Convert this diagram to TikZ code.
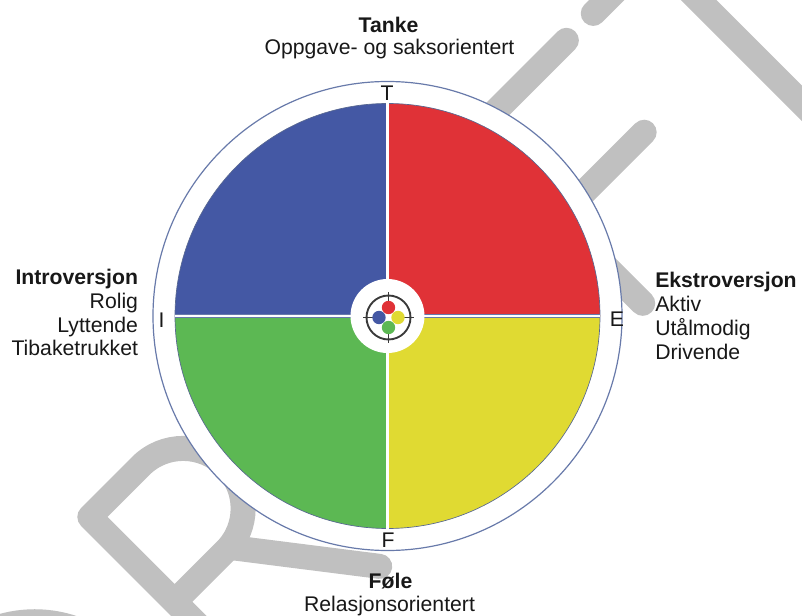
\documentclass[tikz,border=0pt]{standalone}
\usepackage{fontspec}
\setmainfont{Liberation Sans}
\usetikzlibrary{calc}

\definecolor{wm}{RGB}{192,192,192}
\definecolor{qblue}{RGB}{68,88,164}
\definecolor{qred}{RGB}{224,50,55}
\definecolor{qgreen}{RGB}{92,184,83}
\definecolor{qyellow}{RGB}{224,218,50}
\definecolor{rim}{RGB}{104,122,170}
\definecolor{ink}{RGB}{24,24,24}
\definecolor{ringc}{RGB}{58,58,58}

\begin{document}
\begin{tikzpicture}[x=0.75pt,y=-0.75pt,
  lbl/.style={inner sep=0pt, text=ink, font=\fontsize{15.9}{19}\selectfont},
  head/.style={inner sep=0pt, text=ink, font=\fontsize{15.9}{19}\selectfont\bfseries},
  wmstroke/.style={draw=wm, line width=18.75pt, line cap=round, line join=round},
  dot/.style={circle, inner sep=0pt, minimum size=10pt}]

\useasboundingbox (0,0) rectangle (802,616);
\fill[white] (0,0) rectangle (802,616);

% ---- DRAFT watermark, set along the diagonal behind the wheel ----
\begin{scope}
\clip (0,0) rectangle (802,616);
\begin{scope}[shift={(478.7,478.7)}]
\begin{scope}[x={(0.5303pt,0.5303pt)}, y={(-0.5303pt,0.5303pt)}]
  % D
  \draw[wmstroke] (-580,8) -- (-580,248) -- (-500,248)
      arc[start angle=90, end angle=-90, radius=120] -- cycle;
  % R
  \draw[wmstroke] (-302,8) -- (-302,248) -- (-230,248)
      arc[start angle=90, end angle=-90, radius=60] -- (-302,128);
  \draw[wmstroke] (-225,128) -- (-132,8);
  % A
  \draw[wmstroke] (-55,8) -- (57,248) -- (170,8);
  \draw[wmstroke] (-18,88) -- (132,88);
  % F
  \draw[wmstroke] (372,248) -- (240,248) -- (240,8);
  \draw[wmstroke] (240,128) -- (362,128);
  % T
  \draw[wmstroke] (410,248) -- (578,248);
  \draw[wmstroke] (494,248) -- (494,8);
\end{scope}
\end{scope}
\end{scope}

% ---- the wheel ----
\coordinate (C) at (387.5,316);
\draw[rim, line width=0.9pt, fill=white] (C) circle (234.5);

\begin{scope}
  \clip (C) circle (212.5);
  \fill[qblue]   (C) rectangle ++(-220,-220);
  \fill[qred]    (C) rectangle ++(220,-220);
  \fill[qgreen]  (C) rectangle ++(-220,220);
  \fill[qyellow] (C) rectangle ++(220,220);
\end{scope}
\draw[rim!85!black, line width=0.5pt] (C) circle (212.5);

% dividing cross
\coordinate (axT) at ($(C)+(0,-212.5)$);
\coordinate (axB) at ($(C)+(0,212.5)$);
\coordinate (axL) at ($(C)+(-212.5,0)$);
\coordinate (axR) at ($(C)+(212.5,0)$);
\draw[rim, line width=2.8pt] (axT) -- (axB) (axL) -- (axR);
\draw[white, line width=1.6pt] (axT) -- (axB) (axL) -- (axR);

% hub
\fill[white] (C) circle (37);
\coordinate (K) at (388.5,317.5);
\draw[ringc, line width=1.4pt] (K) circle (22);
\foreach \a in {0,90,180,270}
  \draw[ringc, line width=1.2pt] ($(K)+(\a:14)$) -- ($(K)+(\a:25.5)$);
\node[dot, fill=qblue]   (dB) at ($(K)+(-9.5,0)$) {};
\node[dot, fill=qyellow] (dY) at ($(K)+(9.5,0)$) {};
\node[dot, fill=qred]    (dR) at ($(K)+(0,-10)$) {};
\node[dot, fill=qgreen]  (dG) at ($(K)+(0,10)$) {};

% axis letters
\node[lbl] (lT) at (387,93) {T};
\node[lbl] (lF) at (388,540) {F};
\node[lbl] (lI) at (161.5,320.5) {I};
\node[lbl] (lE) at (617,319.5) {E};

% captions
\node[head, anchor=base] (tanke)  at (388.5,32.3) {Tanke};
\node[lbl,  anchor=base] (tanke2) at (389.5,55) {Oppgave- og saksorientert};

\node[head, anchor=base east] (intro)  at (138.3,285) {Introversjon};
\node[lbl,  anchor=base east] (intro1) at (138.3,308.5) {Rolig};
\node[lbl,  anchor=base east] (intro2) at (138.3,332) {Lyttende};
\node[lbl,  anchor=base east] (intro3) at (138.3,355.5) {Tibaketrukket};

\node[head, anchor=base west] (ekstro)  at (655,288) {Ekstroversjon};
\node[lbl,  anchor=base west] (ekstro1) at (655,311.7) {Aktiv};
\node[lbl,  anchor=base west] (ekstro2) at (655,335.3) {Utålmodig};
\node[lbl,  anchor=base west] (ekstro3) at (655,359) {Drivende};

\node[head, anchor=base] (fole)  at (390.5,588) {Føle};
\node[lbl,  anchor=base] (fole2) at (389.5,611) {Relasjonsorientert};
\end{tikzpicture}
\end{document}
